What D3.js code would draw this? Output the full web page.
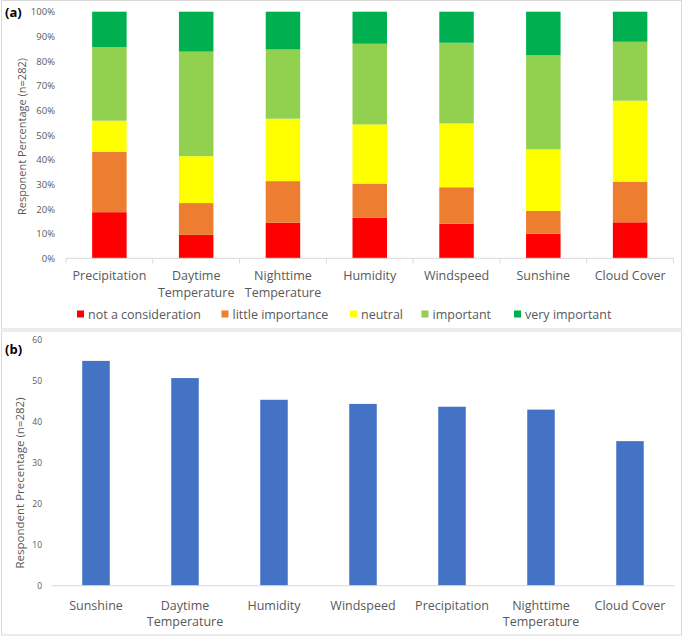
<!DOCTYPE html>
<html>
<head>
<meta charset="utf-8">
<script src="https://cdn.jsdelivr.net/npm/d3@7"></script>
<style>
  body { margin: 0; background: #fff; }
  text { font-family: "Open Sans", sans-serif; }
</style>
</head>
<body>
<div class="d3"></div>
<script>
// panel (a): stacked percentages
const factors = ['Precipitation', 'Daytime Temperature', 'Nighttime Temperature', 'Humidity', 'Windspeed', 'Sunshine', 'Cloud Cover'];
const levels = ['not a consideration', 'little importance', 'neutral', 'important', 'very important'];
const levelColors = ['#ff0000', '#ed7d31', '#ffff00', '#92d050', '#00b050'];
const notConsideration = [18.7, 9.5, 14.4, 16.5, 14.0, 10.0, 14.6];
const littleImportance = [24.4, 12.9, 16.9, 13.8, 14.8, 9.2, 16.5];
const neutral = [12.7, 19.0, 25.3, 24.0, 25.9, 25.0, 32.8];
const important = [29.8, 42.4, 28.1, 32.7, 32.7, 38.1, 23.9];
const veryImportant = [14.4, 16.2, 15.3, 13.0, 12.6, 17.7, 12.2];
const pctTicks = [0, 10, 20, 30, 40, 50, 60, 70, 80, 90, 100];

// panel (b): share rating "important"/"very important", sorted
const rankFactors = ['Sunshine', 'Daytime Temperature', 'Humidity', 'Windspeed', 'Precipitation', 'Nighttime Temperature', 'Cloud Cover'];
const rankValues = [54.9, 50.7, 45.4, 44.4, 43.7, 43.0, 35.3];
const rankTicks = [0, 10, 20, 30, 40, 50, 60];

const width = 685, height = 638;
const grey = '#595959';

const svg = d3.select('.d3').append('svg')
  .attr('width', width)
  .attr('height', height);

// panel frames
svg.append('rect').attr('x', 1.5).attr('y', 0.5).attr('width', 680).attr('height', 328.5)
  .attr('fill', 'none').attr('stroke', '#d9d9d9');
svg.append('rect').attr('x', 1.5).attr('y', 331).attr('width', 680).attr('height', 304)
  .attr('fill', 'none').attr('stroke', '#d9d9d9');

function wrapLabel(sel) {
  sel.each(function(d) {
    const t = d3.select(this);
    const words = d.split(' ');
    t.text(null);
    if (words.length > 1 && d.length > 13) {
      t.append('tspan').attr('x', 0).attr('dy', 0).text(words[0]);
      t.append('tspan').attr('x', 0).attr('dy', '1.3em').text(words.slice(1).join(' '));
    } else {
      t.text(d);
    }
  });
}

// ---------- (a) ----------
const gA = svg.append('g');
const xAline = d3.scaleBand().domain(factors).range([66, 673.5]);
const yA = d3.scaleLinear().domain([0, 100]).range([258.3, 11.7]);

const series = [notConsideration, littleImportance, neutral, important, veryImportant];
const rows = factors.map((f, i) => {
  const r = { factor: f };
  levels.forEach((l, j) => r[l] = series[j][i]);
  return r;
});
const stacked = d3.stack().keys(levels)(rows);

gA.selectAll('g.layer')
  .data(stacked)
  .enter()
  .append('g')
  .attr('class', 'layer')
  .attr('fill', (d, i) => levelColors[i])
  .selectAll('rect')
  .data(d => d)
  .enter()
  .append('rect')
  .attr('x', d => xAline(d.data.factor) + (xAline.bandwidth() - 34.5) / 2)
  .attr('width', 34.5)
  .attr('y', d => yA(Math.min(d[1], 100)))
  .attr('height', d => yA(d[0]) - yA(Math.min(d[1], 100)));

// x axis line with category ticks
const axA = gA.append('g').attr('transform', 'translate(0,' + yA(0) + ')');
axA.append('line').attr('x1', 66).attr('x2', 673.5).attr('stroke', '#d9d9d9');
axA.selectAll('line.tk')
  .data(factors.concat(['end']))
  .enter()
  .append('line')
  .attr('class', 'tk')
  .attr('x1', (d, i) => 66 + i * xAline.step())
  .attr('x2', (d, i) => 66 + i * xAline.step())
  .attr('y2', 5)
  .attr('stroke', '#d9d9d9');

gA.append('g')
  .attr('transform', 'translate(0,' + (yA(0) + 22) + ')')
  .selectAll('text')
  .data(factors)
  .enter()
  .append('text')
  .attr('transform', d => 'translate(' + (xAline(d) + xAline.bandwidth() / 2) + ',0)')
  .attr('text-anchor', 'middle')
  .attr('font-size', 12.5)
  .attr('fill', grey)
  .call(wrapLabel);

// y axis
const yAxisA = d3.axisLeft(yA).tickValues(pctTicks).tickFormat(d => d + '%').tickSize(0).tickPadding(0);
gA.append('g')
  .attr('transform', 'translate(55,0)')
  .call(yAxisA)
  .call(g => g.select('.domain').remove())
  .selectAll('text')
  .attr('font-family', '"Open Sans", sans-serif')
  .attr('font-size', 9.5)
  .attr('fill', grey);

gA.append('text')
  .attr('transform', 'translate(26,136.5) rotate(-90)')
  .attr('text-anchor', 'middle')
  .attr('font-size', 11)
  .attr('fill', grey)
  .text('Responent Percentage (n=282)');

gA.append('text').attr('x', 5).attr('y', 17)
  .attr('font-size', 13).attr('font-weight', 'bold').attr('fill', '#000').text('(a)');

// legend
const legendX = [77, 221.5, 350, 421.5, 514];
const legend = gA.selectAll('g.leg')
  .data(levels)
  .enter()
  .append('g')
  .attr('class', 'leg')
  .attr('transform', (d, i) => 'translate(' + legendX[i] + ',314)');
legend.append('rect').attr('x', 0).attr('y', -3.5).attr('width', 7).attr('height', 7)
  .attr('fill', (d, i) => levelColors[i]);
legend.append('text').attr('x', 11).attr('y', 4.5)
  .attr('font-size', 12.5).attr('fill', grey).text(d => d);

// ---------- (b) ----------
const gB = svg.append('g');
const xB = d3.scaleBand().domain(rankFactors).range([51.5, 674.5]);
const yB = d3.scaleLinear().domain([0, 60]).range([585.7, 340]);
const barW = 27.5;

gB.selectAll('rect')
  .data(rankValues)
  .enter()
  .append('rect')
  .attr('x', (d, i) => xB(rankFactors[i]) + (xB.bandwidth() - barW) / 2)
  .attr('width', barW)
  .attr('y', d => yB(d))
  .attr('height', d => yB(0) - yB(d))
  .attr('fill', '#4472c4');

gB.append('line')
  .attr('x1', 51.5).attr('x2', 674.5)
  .attr('y1', yB(0)).attr('y2', yB(0))
  .attr('stroke', '#d9d9d9');

gB.append('g')
  .attr('transform', 'translate(0,' + (yB(0) + 24) + ')')
  .selectAll('text')
  .data(rankFactors)
  .enter()
  .append('text')
  .attr('transform', d => 'translate(' + (xB(d) + xB.bandwidth() / 2) + ',0)')
  .attr('text-anchor', 'middle')
  .attr('font-size', 12.5)
  .attr('fill', grey)
  .call(wrapLabel);

const yAxisB = d3.axisLeft(yB).tickValues(rankTicks).tickSize(0).tickPadding(0);
gB.append('g')
  .attr('transform', 'translate(42,0)')
  .call(yAxisB)
  .call(g => g.select('.domain').remove())
  .selectAll('text')
  .attr('font-family', '"Open Sans", sans-serif')
  .attr('font-size', 8.5)
  .attr('fill', grey);

gB.append('text')
  .attr('transform', 'translate(24,483) rotate(-90)')
  .attr('text-anchor', 'middle')
  .attr('font-size', 11.5)
  .attr('fill', grey)
  .text('Respondent Precentage (n=282)');

gB.append('text').attr('x', 5).attr('y', 354)
  .attr('font-size', 13).attr('font-weight', 'bold').attr('fill', '#000').text('(b)');
</script>
</body>
</html>
